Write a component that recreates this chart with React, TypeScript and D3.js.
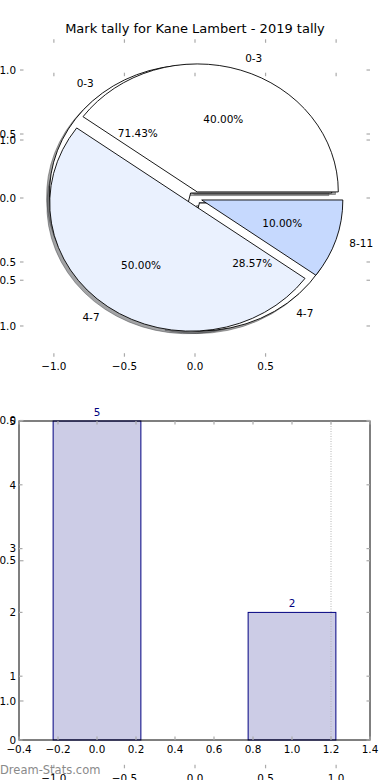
import React, { useEffect, useRef } from "react";
import * as d3 from "d3";

const chartTitle = "Mark tally for Kane Lambert - 2019 tally";

// pie drawn first (sits underneath)
const lowerPieLabels = ["0-3", "4-7"];
const lowerPieValues = [5, 2];
const lowerPieColors = ["#ffffff", "#ffffff"];

// pie drawn second (on top)
const upperPieLabels = ["0-3", "4-7", "8-11"];
const upperPieValues = [4, 5, 1];
const upperPieColors = ["#ffffff", "#eaf1fe", "#c6d9fe"];

const barCategories = [0, 1];
const barValues = [5, 2];

const pieXTicksTop = [-1, -0.5, 0, 0.5, 1];
const pieXTicksBottom = [-1, -0.5, 0, 0.5];
const pieYTicks = [-1, -0.5, 0, 0.5, 1];
const backTicks = [-1, -0.5, 0, 0.5, 1];
const barXTicks = [-0.4, -0.2, 0, 0.2, 0.4, 0.6, 0.8, 1.0, 1.2, 1.4];
const barYTicks = [0, 1, 2, 3, 4, 5];
const refLineX = 1.2;
const explode = 0.05;

type Lin = d3.ScaleLinear<number, number>;

export default function App() {
  const svgRef = useRef<SVGSVGElement>(null);

  useEffect(() => {
    const width = 390;
    const height = 780;
    const font = "DejaVu Sans, sans-serif";
    const tickColor = "#aaaaaa";
    const tickLen = 3.5;
    const fmt1 = d3.format(".1f");
    const fmtInt = d3.format("d");

    const svg = d3.select(svgRef.current).attr("width", width).attr("height", height);
    svg.selectAll("*").remove();
    svg.append("rect").attr("width", width).attr("height", height).attr("fill", "#ffffff");

    const pieX = d3.scaleLinear().domain([-1.24, 1.24]).range([20, 370]);
    const pieY = d3.scaleLinear().domain([-1.24, 1.24]).range([356.7, 39.3]);
    const backX = d3.scaleLinear().domain([-1.24, 1.24]).range([20, 370]);
    const backY = d3.scaleLinear().domain([-1.24, 1.24]).range([768.3, 72.7]);
    const barX = d3.scaleLinear().domain([-0.4, 1.4]).range([19, 370]);
    const barY = d3.scaleLinear().domain([0, 5]).range([740, 421]);

    // ---- pies ----
    const cx = pieX(0);
    const cy = pieY(0);
    const sx = pieX(1) - pieX(0);
    const sy = pieY(0) - pieY(1);
    const R = 100;
    const pie = d3
      .pie<number>()
      .sort(null)
      .startAngle(Math.PI / 2)
      .endAngle(Math.PI / 2 - 2 * Math.PI);
    const arc = d3.arc<d3.PieArcDatum<number>>().innerRadius(0).outerRadius(R);
    const at = (a: number, r: number): [number, number] => [
      cx + r * Math.sin(a) * sx,
      cy - r * Math.cos(a) * sy,
    ];

    const slices = [
      { values: lowerPieValues, labels: lowerPieLabels, colors: lowerPieColors },
      { values: upperPieValues, labels: upperPieLabels, colors: upperPieColors },
    ].flatMap((p) => {
      const total = d3.sum(p.values);
      return pie(p.values).map((d, i) => {
        const mid = (d.startAngle + d.endAngle) / 2;
        const [ox, oy] = at(mid, explode);
        return { d, mid, ox, oy, label: p.labels[i], color: p.colors[i], pct: (100 * p.values[i]) / total };
      });
    });

    const shadowG = svg.append("g");
    slices.forEach((s) => {
      const c = d3.rgb(s.color);
      const sc = d3.rgb(c.r * 0.3, c.g * 0.3, c.b * 0.3).toString();
      shadowG
        .append("path")
        .attr("d", arc(s.d))
        .attr("transform", `translate(${s.ox - 0.02 * sx},${s.oy + 0.02 * sy}) scale(${sx / R},${sy / R})`)
        .attr("fill", sc)
        .attr("fill-opacity", 0.5)
        .attr("stroke", sc)
        .attr("stroke-opacity", 0.5)
        .attr("stroke-width", 1)
        .attr("vector-effect", "non-scaling-stroke");
    });

    const wedgeG = svg.append("g");
    slices.forEach((s) => {
      wedgeG
        .append("path")
        .attr("d", arc(s.d))
        .attr("transform", `translate(${s.ox},${s.oy}) scale(${sx / R},${sy / R})`)
        .attr("fill", s.color)
        .attr("stroke", "#000")
        .attr("stroke-width", 0.9)
        .attr("stroke-linejoin", "miter")
        .attr("vector-effect", "non-scaling-stroke");
    });

    const pieText = svg.append("g").attr("font-family", font).attr("font-size", 10.5).attr("fill", "#000");
    slices.forEach((s) => {
      const [lx, ly] = at(s.mid, 1.1 + explode);
      pieText
        .append("text")
        .attr("x", lx)
        .attr("y", ly)
        .attr("dy", "0.36em")
        .attr("text-anchor", Math.sin(s.mid) > 0 ? "start" : "end")
        .text(s.label);
      const [px, py] = at(s.mid, 0.6 + explode);
      pieText
        .append("text")
        .attr("x", px)
        .attr("y", py)
        .attr("dy", "0.36em")
        .attr("text-anchor", "middle")
        .text(d3.format(".2f")(s.pct) + "%");
    });

    // ---- tick helper ----
    function ticks(
      x: Lin,
      y: Lin,
      o: {
        top: number[];
        bottom: number[];
        bottomLabels: number[];
        side: number[];
        sideLabels: number[];
        fx: (v: number) => string;
        fy: (v: number) => string;
        gap: number;
      }
    ) {
      const g = svg.append("g");
      const [xl, xr] = x.range();
      const [yb, yt] = y.range();
      const marks = g.append("g").attr("stroke", tickColor).attr("stroke-width", 1.2);
      o.top.forEach((t) =>
        marks.append("line").attr("x1", x(t)).attr("x2", x(t)).attr("y1", yt).attr("y2", yt + tickLen)
      );
      o.bottom.forEach((t) =>
        marks.append("line").attr("x1", x(t)).attr("x2", x(t)).attr("y1", yb).attr("y2", yb - tickLen)
      );
      o.side.forEach((t) => {
        marks.append("line").attr("x1", xl).attr("x2", xl + tickLen).attr("y1", y(t)).attr("y2", y(t));
        marks.append("line").attr("x1", xr).attr("x2", xr - tickLen).attr("y1", y(t)).attr("y2", y(t));
      });
      const labels = g.append("g").attr("font-family", font).attr("font-size", 10.4).attr("fill", "#000");
      o.bottomLabels.forEach((t) =>
        labels
          .append("text")
          .attr("x", x(t))
          .attr("y", yb + o.gap)
          .attr("text-anchor", "middle")
          .text(o.fx(t))
      );
      o.sideLabels.forEach((t) =>
        labels
          .append("text")
          .attr("x", 16)
          .attr("y", y(t))
          .attr("dy", "0.36em")
          .attr("text-anchor", "end")
          .text(o.fy(t))
      );
    }

    ticks(pieX, pieY, {
      top: pieXTicksTop,
      bottom: pieXTicksBottom,
      bottomLabels: pieXTicksBottom,
      side: pieYTicks,
      sideLabels: pieYTicks,
      fx: fmt1,
      fy: fmt1,
      gap: 13.5,
    });

    // ---- title ----
    svg
      .append("text")
      .attr("x", 195)
      .attr("y", 33)
      .attr("text-anchor", "middle")
      .attr("font-family", font)
      .attr("font-size", 13)
      .attr("fill", "#000")
      .text(chartTitle);

    // ---- bars ----
    const bw = 0.45;
    const gb = svg.append("g");
    gb.selectAll("rect.bar")
      .data(barValues)
      .join("rect")
      .attr("class", "bar")
      .attr("x", (v, i) => barX(barCategories[i] - bw / 2))
      .attr("width", barX(bw) - barX(0))
      .attr("y", (v) => barY(v))
      .attr("height", (v) => barY(0) - barY(v))
      .attr("fill", "#ccccE6")
      .attr("stroke", "#000080")
      .attr("stroke-width", 1);

    gb.append("line")
      .attr("x1", barX(refLineX))
      .attr("x2", barX(refLineX))
      .attr("y1", barY(5))
      .attr("y2", barY(0))
      .attr("stroke", "#b4b4b4")
      .attr("stroke-width", 1)
      .attr("stroke-dasharray", "1,1.5");

    gb.append("rect")
      .attr("x", barX(-0.4))
      .attr("y", barY(5))
      .attr("width", barX(1.4) - barX(-0.4))
      .attr("height", barY(0) - barY(5))
      .attr("fill", "none")
      .attr("stroke", "#000")
      .attr("stroke-width", 1);

    ticks(barX, barY, {
      top: barXTicks,
      bottom: barXTicks,
      bottomLabels: barXTicks,
      side: barYTicks,
      sideLabels: barYTicks,
      fx: fmt1,
      fy: fmtInt,
      gap: 13,
    });

    gb.selectAll("text.val")
      .data(barValues)
      .join("text")
      .attr("class", "val")
      .attr("x", (v, i) => barX(barCategories[i]))
      .attr("y", (v) => barY(v) - 5)
      .attr("text-anchor", "middle")
      .attr("font-family", font)
      .attr("font-size", 10.4)
      .attr("fill", "#000080")
      .text((v) => String(v));

    // ---- background axes spanning the figure ----
    ticks(backX, backY, {
      top: backTicks,
      bottom: backTicks,
      bottomLabels: backTicks,
      side: backTicks,
      sideLabels: backTicks,
      fx: fmt1,
      fy: fmt1,
      gap: 13.5,
    });

    svg
      .append("text")
      .attr("x", 0)
      .attr("y", 774)
      .attr("font-family", font)
      .attr("font-size", 11.5)
      .attr("fill", "#8a8a8a")
      .text("Dream-Stats.com");
  }, []);

  return <svg ref={svgRef} style={{ position: "absolute", left: 0, top: 0 }}></svg>;
}
